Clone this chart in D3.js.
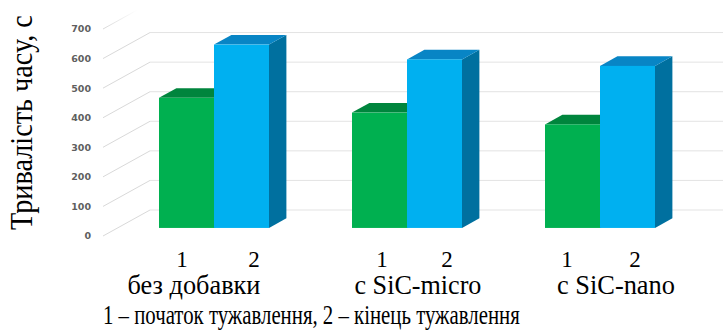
<!DOCTYPE html>
<html>
<head>
<meta charset="utf-8">
<script src="https://cdn.jsdelivr.net/npm/d3@7"></script>
<style>
  html, body { margin: 0; padding: 0; background: #fff; }
  svg { display: block; }
</style>
</head>
<body>
<div id="chart"></div>
<script>
// Chart data
const groups = ["без добавки", "с SiC-micro", "с SiC-nano"];
const series = ["1", "2"];
const startValues = [440, 390, 350];   // 1 – початок тужавлення
const endValues = [620, 570, 548];     // 2 – кінець тужавлення
const yTicks = [0, 100, 200, 300, 400, 500, 600, 700];
const yTitle = "Тривалість часу, с";
const footnote = "1 – початок тужавлення, 2 – кінець тужавлення";

const width = 723, height = 332;

// 3D look: depth of the side wall and where the bars sit inside it
const depth = { dx: 47, dy: 26 };
const barDepth = { t0: 0.31, t1: 0.68 };
const colors = {
    front: ["#00b050", "#00b0f0"],
    top: ["#00853d", "#0885c5"],
    side: ["#00733a", "#00709f"]
};

// label shifts from each group centre (the source places them by hand)
const digitShift = [[-32, 40], [-25, 40], [-33, 35]];
const labelShift = [-20, 11, 16];
const labelWidth = [133, 127, 118];

const svg = d3.select("#chart")
    .append("svg")
    .attr("width", width)
    .attr("height", height);

const y = d3.scaleLinear().domain([0, 700]).range([236, 29]);

const x = d3.scaleBand()
    .domain(groups)
    .range([117.5, 696.5])
    .paddingInner(0.43)
    .paddingOuter(0.215);

const xSub = d3.scaleBand()
    .domain(series)
    .range([0, x.bandwidth()]);

const wallLeft = 103;

// Gridlines: slanted side-wall lines and back-wall lines
const defs = svg.append("defs");
const fade = defs.append("linearGradient").attr("id", "fade")
    .attr("x1", "0").attr("x2", "1").attr("y1", "0").attr("y2", "0");
fade.append("stop").attr("offset", "0").attr("stop-color", "#d8d8d8").attr("stop-opacity", 1);
fade.append("stop").attr("offset", "1").attr("stop-color", "#d8d8d8").attr("stop-opacity", 0);

const grid = svg.append("g");
yTicks.forEach(v => {
    const top = v === d3.max(yTicks);
    grid.append("line")
        .attr("x1", wallLeft)
        .attr("y1", y(v))
        .attr("x2", wallLeft + depth.dx * (top ? 0.72 : 1))
        .attr("y2", y(v) - depth.dy * (top ? 0.72 : 1))
        .attr("stroke", top ? "url(#fade)" : "#d9d9d9")
        .attr("stroke-width", 1);
    if (!top) {
        grid.append("line")
            .attr("x1", wallLeft + depth.dx)
            .attr("y1", y(v) - depth.dy)
            .attr("x2", width)
            .attr("y2", y(v) - depth.dy)
            .attr("stroke", "#e3e3e3")
            .attr("stroke-width", 1);
    }
});

// Tick labels
svg.append("g")
    .selectAll("text")
    .data(yTicks)
    .join("text")
    .attr("x", 91)
    .attr("y", d => y(d))
    .attr("dy", "0.36em")
    .attr("text-anchor", "end")
    .attr("font-family", "DejaVu Sans")
    .attr("font-weight", "bold")
    .attr("font-size", "9.5px")
    .attr("fill", "#5f5f5f")
    .text(d => d);

// Bars
const bars = [];
groups.forEach((g, i) => {
    bars.push({ group: g, s: 0, value: startValues[i] });
    bars.push({ group: g, s: 1, value: endValues[i] });
});

const fy = depth.dy * barDepth.t0;
const bdx = depth.dx * (barDepth.t1 - barDepth.t0);
const bdy = depth.dy * (barDepth.t1 - barDepth.t0);

const barG = svg.append("g")
    .selectAll("g")
    .data(bars)
    .join("g");

barG.each(function (d) {
    const g = d3.select(this);
    const x0 = x(d.group) + xSub(series[d.s]);
    const w = xSub.bandwidth();
    const yt = y(d.value) - fy;
    const yb = y(0) - fy;
    g.append("polygon")
        .attr("points", [[x0 + w, yt], [x0 + w + bdx, yt - bdy], [x0 + w + bdx, yb - bdy], [x0 + w, yb]].join(" "))
        .attr("fill", colors.side[d.s]);
    g.append("polygon")
        .attr("points", [[x0, yt], [x0 + w, yt], [x0 + w + bdx, yt - bdy], [x0 + bdx, yt - bdy]].join(" "))
        .attr("fill", colors.top[d.s]);
    g.append("rect")
        .attr("x", x0)
        .attr("y", yt)
        .attr("width", w)
        .attr("height", yb - yt)
        .attr("fill", colors.front[d.s]);
});

// Text squeezed to a given length (the source text is condensed)
const serif = "Liberation Serif";
function fitText(str, size, len, tx, ty, angle) {
    const g = svg.append("g");
    const t = g.append("text")
        .attr("font-family", serif)
        .attr("font-size", size + "px")
        .attr("fill", "#000")
        .text(str);
    const k = len / t.node().getComputedTextLength();
    g.attr("transform", `translate(${tx},${ty}) rotate(${angle || 0}) scale(${k},1)`);
}

groups.forEach((g, i) => {
    const c = x(g) + x.bandwidth() / 2;
    series.forEach((s, j) => {
        svg.append("text")
            .attr("x", c + digitShift[i][j])
            .attr("y", 267)
            .attr("text-anchor", "middle")
            .attr("font-family", serif)
            .attr("font-size", "23px")
            .attr("fill", "#000")
            .text(s);
    });
    fitText(g, 27, labelWidth[i], c + labelShift[i] - labelWidth[i] / 2, 294);
});

// Footnote
fitText(footnote, 28, 417, 103, 324);

// Y axis title
fitText(yTitle, 31, 215, 32, 230, -90);
</script>
</body>
</html>
